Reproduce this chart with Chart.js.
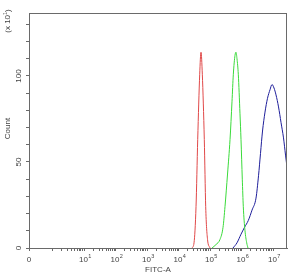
<!DOCTYPE html>
<html>
<head>
<meta charset="utf-8">
<script src="https://cdn.jsdelivr.net/npm/chart.js@4/dist/chart.umd.min.js"></script>
<style>
  html, body { margin: 0; padding: 0; background: #fff; }
  #wrap { width: 293px; height: 275px; position: relative; }
</style>
</head>
<body>
<div id="wrap"><canvas id="hist"></canvas></div>
<script>
// FITC-A intensity (x) and count (y, x 10^1) for each histogram
const redX = [26900, 31100, 36000, 40700, 47100, 51800, 57000, 65900, 73000, 83400, 100000];
const redY = [0, 3, 24, 63, 101, 113.8, 101, 63, 24, 5, 0];

const greenX = [116000, 155000, 208000, 259000, 299000, 360000, 432000, 499000, 550000, 622000,
                668000, 719000, 791000, 895000, 964000, 1059000, 1140000, 1291000, 1462000, 1607000];
const greenY = [0, 2, 5, 12, 24, 43, 63, 85, 101, 112, 113.8, 110, 101, 78, 63, 40, 24, 10, 3, 0];

const blueX = [537000, 719000, 964000, 1245000, 1644000, 2153000, 2884000, 3467000, 4009000, 4645000,
               5572000, 6683000, 8035000, 9290000, 10760000, 12450000, 14960000, 17950000, 21530000,
               24950000, 27800000];
const blueY = [0, 3, 8, 12, 16, 22, 29, 42, 55, 68, 79, 87, 92, 95, 93, 89, 82, 73, 64, 54, 47];

// axis ticks
const xMin = 0.1795, xMax = 27800000;
const xMajor = [10, 100, 1000, 10000, 100000, 1000000, 10000000];
const yTicks = [0, 10, 20, 30, 40, 50, 60, 70, 80, 90, 100, 110, 120, 130];
const yLabels = [0, 50, 100];
const yMax = 136.6;

const xTicks = [xMin];
for (let n = 0; n < 7; n++) {
    for (let k = 1; k < 10; k++) xTicks.push(k * Math.pow(10, n));
}
xTicks.push(1e7);

const toPts = (xs, ys) => xs.map((x, i) => ({ x: x, y: ys[i] }));
const txtColor = '#444';
const axisColor = '#6a6a6a';
const FONT = 'Liberation Sans, Arial, sans-serif';

// frame, x labels with exponents, rotated y labels
const extras = {
    id: 'extras',
    afterDraw(chart) {
        const { ctx, chartArea: a } = chart;
        const x = chart.scales.x, y = chart.scales.y;
        ctx.save();
        ctx.strokeStyle = axisColor;
        ctx.lineWidth = 1;
        ctx.strokeRect(Math.round(a.left) + 0.5, Math.round(a.top) + 0.5,
                       Math.round(a.right - a.left) - 1, Math.round(a.bottom - a.top));
        ctx.fillStyle = txtColor;
        ctx.textBaseline = 'alphabetic';

        // x tick labels
        ctx.textAlign = 'left';
        ctx.font = '8px ' + FONT;
        const zw = ctx.measureText('0').width;
        ctx.fillText('0', x.getPixelForValue(xMin) - zw / 2, 262);
        xMajor.forEach((v, i) => {
            ctx.font = '8px ' + FONT;
            const bw = ctx.measureText('10').width;
            ctx.font = '5.5px ' + FONT;
            const ew = ctx.measureText(String(i + 1)).width;
            const px = x.getPixelForValue(v) - (bw + ew) / 2 + 1;
            ctx.font = '8px ' + FONT;
            ctx.fillText('10', px, 262);
            ctx.font = '5.5px ' + FONT;
            ctx.fillText(String(i + 1), px + bw + 0.3, 258);
        });

        // y labels
        ctx.textAlign = 'center';
        ctx.textBaseline = 'middle';
        ctx.font = '8px ' + FONT;
        yLabels.forEach(v => {
            ctx.save();
            ctx.translate(19, y.getPixelForValue(v));
            ctx.rotate(-Math.PI / 2);
            ctx.fillText(String(v), 0, 0);
            ctx.restore();
        });
        ctx.save();
        ctx.translate(8, (a.top + a.bottom) / 2 - 2);
        ctx.rotate(-Math.PI / 2);
        ctx.fillText('Count', 0, 0);
        ctx.restore();

        ctx.save();
        ctx.translate(8, 21);
        ctx.rotate(-Math.PI / 2);
        ctx.textAlign = 'left';
        ctx.font = '8px ' + FONT;
        const w1 = ctx.measureText('(x 10').width;
        ctx.font = '5.5px ' + FONT;
        const w2 = ctx.measureText('1').width;
        ctx.font = '8px ' + FONT;
        const w3 = ctx.measureText(')').width;
        let sx = -(w1 + w2 + w3) / 2;
        ctx.fillText('(x 10', sx, 0);
        ctx.font = '5.5px ' + FONT;
        ctx.fillText('1', sx + w1, -2.5);
        ctx.font = '8px ' + FONT;
        ctx.fillText(')', sx + w1 + w2, 0);
        ctx.restore();
        ctx.restore();
    }
};

const mkSet = (pts, color) => ({
    data: pts,
    borderColor: color,
    borderWidth: 1,
    pointRadius: 0,
    fill: false,
    cubicInterpolationMode: 'monotone'
});

new Chart(document.getElementById('hist'), {
    type: 'line',
    data: {
        datasets: [
            mkSet(toPts(redX, redY), '#e04848'),
            mkSet(toPts(greenX, greenY), '#3ada3a'),
            mkSet(toPts(blueX, blueY), '#1e1e9a')
        ]
    },
    options: {
        responsive: true,
        maintainAspectRatio: false,
        animation: false,
        layout: { padding: { top: 13, right: 6, left: 0, bottom: 0 } },
        plugins: { legend: { display: false }, tooltip: { enabled: false } },
        scales: {
            x: {
                type: 'logarithmic',
                min: xMin,
                max: xMax,
                afterBuildTicks: s => { s.ticks = xTicks.map(v => ({ value: v })); },
                afterFit: s => { s.height = 27; },
                grid: { drawOnChartArea: false, tickLength: 3, tickColor: axisColor },
                border: { color: axisColor },
                ticks: { display: false },
                title: {
                    display: true,
                    text: 'FITC-A',
                    color: txtColor,
                    font: { size: 8, family: FONT },
                    padding: { top: 0, bottom: 0 }
                }
            },
            y: {
                min: 0,
                max: yMax,
                afterBuildTicks: s => { s.ticks = yTicks.map(v => ({ value: v })); },
                afterFit: s => { s.width = 29; },
                grid: { drawOnChartArea: false, tickLength: 3, tickColor: axisColor },
                border: { color: axisColor },
                ticks: { display: false }
            }
        }
    },
    plugins: [extras]
});
</script>
</body>
</html>
